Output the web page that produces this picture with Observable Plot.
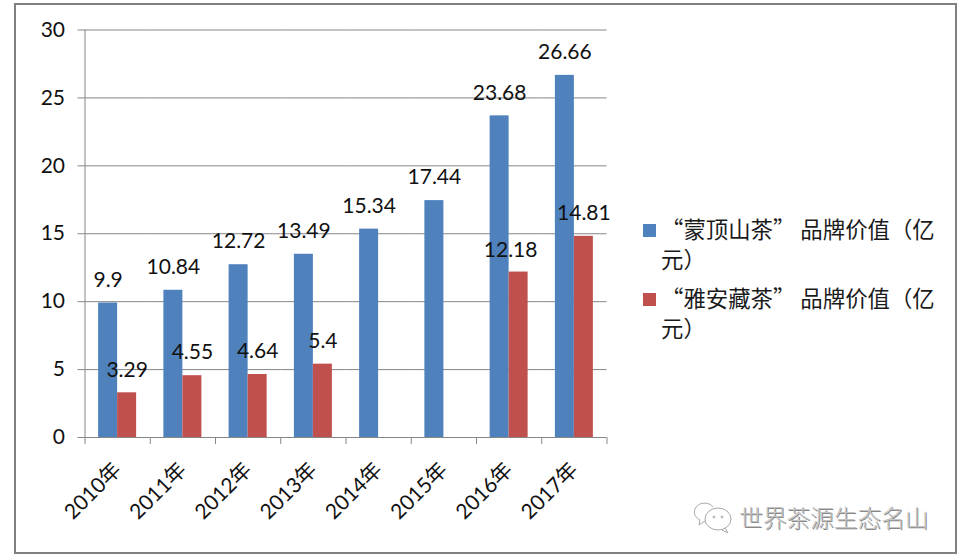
<!DOCTYPE html>
<html><head><meta charset="utf-8">
<script src="https://cdn.jsdelivr.net/npm/d3@7"></script>
<script src="https://cdn.jsdelivr.net/npm/@observablehq/plot@0.6"></script>
<style>
html,body{margin:0;padding:0;background:#fff;}
#wrap{position:relative;width:961px;height:560px;overflow:hidden;font-family:Lato,"Noto Sans CJK SC",sans-serif;}
#border{position:absolute;left:14px;top:3px;width:939px;height:547px;border:2.5px solid #808080;box-sizing:content-box;}
#legend{position:absolute;left:643px;top:213px;width:296px;font-family:"Noto Sans CJK SC",sans-serif;font-size:22.4px;line-height:30px;color:#1a1a1a;}
.item{position:relative;padding-left:18px;margin-bottom:9px;}
.swatch{position:absolute;left:0;top:11px;width:13px;height:13px;}
#mark{position:absolute;left:739px;top:500px;font-family:"Noto Sans CJK SC",sans-serif;font-size:23.7px;line-height:34px;color:#c4c4c4;white-space:nowrap;font-weight:300;text-shadow:1px 1px 0 #888;}
#icon{position:absolute;left:692px;top:500px;}
svg{overflow:visible;}
</style></head><body>
<div id="wrap"><div id="border"></div><div id="chart" style="position:absolute;left:0;top:0"></div><div id="legend"></div>
<svg id="icon" width="44" height="34" viewBox="0 0 44 34" fill="none" stroke="#a8a8a8" stroke-width="1"><path d="M21 7C18 2 6 1 3 9C1 14 4 18 8 20L7 25L13 21"/><ellipse cx="26" cy="19" rx="13" ry="11"/><path d="M33 28L36 33L30 30"/><circle cx="22" cy="17" r="1"/><circle cx="30" cy="17" r="1"/></svg>
<div id="mark"></div></div>
<script>
const years = ["2010年","2011年","2012年","2013年","2014年","2015年","2016年","2017年"];
const mengding = [9.9,10.84,12.72,13.49,15.34,17.44,23.68,26.66];
const yaan = [3.29,4.55,4.64,5.4,null,null,12.18,14.81];
const seriesNames = ["“蒙顶山茶”品牌价值（亿元）","“雅安藏茶”品牌价值（亿元）"];
const legendLabels = ["“蒙顶山茶” 品牌价值（亿元）","“雅安藏茶” 品牌价值（亿元）"];
const colors = ["#4F81BD","#C0504D"];
const yTicks = [0,5,10,15,20,25,30];
const watermark = "世界茶源生态名山";

const rows = years.flatMap((year,i)=>[
  {year,series:seriesNames[0],value:mengding[i]},
  {year,series:seriesNames[1],value:yaan[i]}
]).filter(d=>d.value!=null);
const shifted = d=>d.value===12.18;
const gridColor="#868686";
const edge=-23.1;

const chart = Plot.plot({
  width:961,height:560,
  marginLeft:84.5,marginRight:354.5,marginTop:29.5,marginBottom:123,
  style:{fontFamily:'Lato,"Noto Sans CJK SC",sans-serif',background:"transparent",color:"#111",overflow:"visible"},
  fx:{domain:years,padding:0,round:false,label:null},
  x:{domain:seriesNames,paddingInner:0,paddingOuter:0.717,round:false,axis:null,label:null},
  y:{domain:[0,30],label:null},
  color:{domain:seriesNames,range:colors},
  marks:[
    Plot.ruleY(yTicks,{stroke:gridColor,strokeWidth:1,strokeOpacity:1}),
    Plot.axisY({ticks:yTicks,tickSize:7,tickPadding:13,fontSize:21,label:null,stroke:gridColor,fill:"#111",
      tickFormat:d=>String(d)}),
    Plot.axisFx({anchor:"bottom",tickSize:0,tickRotate:-45,tickPadding:29,fontSize:21,label:null,fill:"#111"}),
    Plot.ruleX(years,{fx:d=>d,x:()=>seriesNames[0],y1:0,y2:-0.52,dx:edge,stroke:gridColor}),
    Plot.ruleX(years.slice(-1),{fx:d=>d,x:()=>seriesNames[1],y1:0,y2:-0.52,dx:-edge,stroke:gridColor}),
    Plot.ruleX(years.slice(0,1),{fx:d=>d,x:()=>seriesNames[0],y1:0,y2:30,dx:edge,stroke:gridColor}),
    Plot.barY(rows,{fx:"year",x:"series",y:"value",fill:"series"}),
    Plot.text(rows.filter(d=>!shifted(d)),{fx:"year",x:"series",y:"value",text:d=>String(d.value),dy:-23,lineAnchor:"middle",fontSize:21,fill:"#111"}),
    Plot.text(rows.filter(shifted),{fx:"year",x:"series",y:"value",text:d=>String(d.value),dy:-22,dx:-8,lineAnchor:"middle",fontSize:21,fill:"#111"})
  ]
});
document.getElementById("chart").append(chart);
const legend=document.getElementById("legend");
legendLabels.forEach((t,i)=>{
  const it=document.createElement("div");it.className="item";
  const s=document.createElement("span");s.className="swatch";s.style.background=colors[i];
  it.append(s,document.createTextNode(t));legend.append(it);
});
document.getElementById("mark").textContent=watermark;
</script></body></html>
